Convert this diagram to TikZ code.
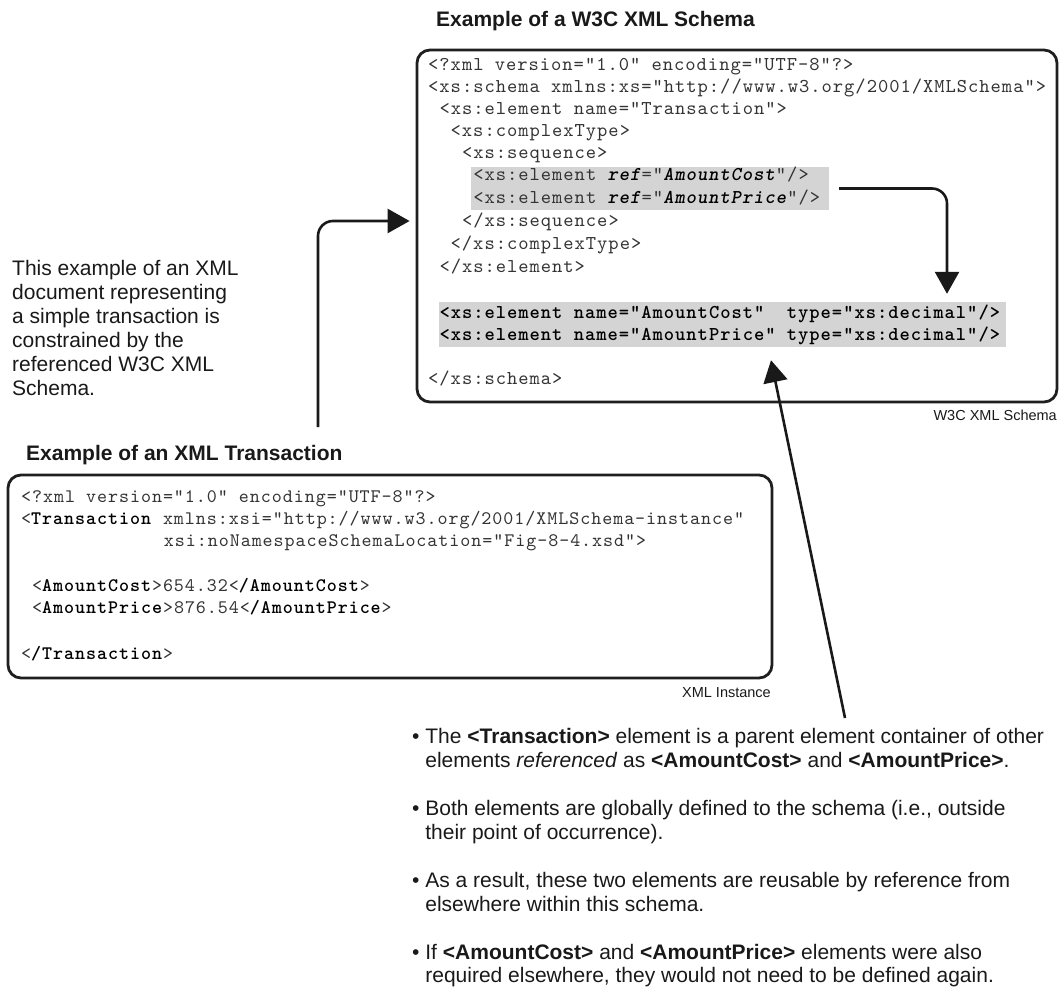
\documentclass[tikz,border=0pt]{standalone}
\usepackage{fontspec}
\setmainfont{Liberation Sans}
\newfontfamily\codefont{lmmono10-regular}[
  Extension=.otf,
  BoldFont=lmmonolt10-bold,
  ItalicFont=lmmono10-italic,
  BoldItalicFont=lmmonolt10-boldoblique,
  LetterSpace=5.0]
\usetikzlibrary{arrows.meta}

% bold and bold-italic markup inside the code listings
\newcommand\bkw[1]{\textcolor{black}{\textbf{#1}}}
\newcommand\bikw[1]{\textcolor{black}{\textbf{\textit{#1}}}}

\tikzset{
  panel/.style={draw=black!88, line width=2.8pt, rounded corners=13pt, inner sep=0pt},
  hilite/.style={fill=black!17, draw=none, inner sep=0pt},
  schemaline/.style={anchor=base west, inner sep=0pt, text=black!80,
    font=\codefont\fontsize{19.6}{22}\selectfont},
  instline/.style={anchor=base west, inner sep=0pt, text=black!80,
    font=\codefont\fontsize{19.1}{22}\selectfont},
  heading/.style={anchor=base west, inner sep=0pt, text=black!90,
    font=\bfseries\fontsize{21}{24}\selectfont},
  caption/.style={anchor=base east, inner sep=0pt, text=black!90,
    font=\fontsize{14.5}{16}\selectfont},
  % multi-line text nodes: the base anchor sits on the last line
  prose/.style={anchor=base west, inner sep=0pt, align=left, text=black!90,
    font=\fontsize{21}{24}\selectfont},
  bulletpt/.style={prose, font=\fontsize{21}{23.5}\selectfont},
  link/.style={draw=black!90, line width=2.6pt, rounded corners=15pt,
    -{Triangle[length=22pt,width=24pt]}},
}

\begin{document}
\begin{tikzpicture}[x=1pt,y=-1pt]
\useasboundingbox (0,0) rectangle (1060,987);

% ---------- schema panel ----------
\node[hilite, minimum width=358pt, minimum height=43pt] (refband) at (650,188.5) {};
\node[hilite, minimum width=567pt, minimum height=45pt] (declband) at (722.5,324.5) {};
\node[panel, minimum width=640pt, minimum height=352pt] (schema) at (737,226) {};
\node[heading] (schematitle) at (436,27) {Example of a W3C XML Schema};

\node[schemaline] (s0)  at (428,70.5)   {<?xml version="1.0" encoding="UTF-8"?>};
\node[schemaline] (s1)  at (428,92.5)   {<xs:schema xmlns:xs="http://www.w3.org/2001/XMLSchema">};
\node[schemaline] (s2)  at (439.3,114.5) {<xs:element name="Transaction">};
\node[schemaline] (s3)  at (450.5,136.5) {<xs:complexType>};
\node[schemaline] (s4)  at (461.8,158.5) {<xs:sequence>};
\node[schemaline] (s5)  at (473.1,180.5) {<xs:element \bikw{ref}="\bikw{AmountCost}"/>};
\node[schemaline] (s6)  at (473.1,203.5) {<xs:element \bikw{ref}="\bikw{AmountPrice}"/>};
\node[schemaline] (s7)  at (461.8,226.5) {</xs:sequence>};
\node[schemaline] (s8)  at (450.5,249.5) {</xs:complexType>};
\node[schemaline] (s9)  at (439.3,272.5) {</xs:element>};
\node[schemaline] (s10) at (439.3,318.5) {\bkw{<xs:element name="AmountCost"\ \ type="xs:decimal"/>}};
\node[schemaline] (s11) at (439.3,340.5) {\bkw{<xs:element name="AmountPrice" type="xs:decimal"/>}};
\node[schemaline] (s12) at (428,384.5)  {</xs:schema>};
\node[caption] (schemacap) at (1057,420) {W3C XML Schema};

% ---------- instance panel ----------
\node[heading] (insttitle) at (26,460) {Example of an XML Transaction};
\node[panel, minimum width=764pt, minimum height=203pt] (inst) at (390,576.5) {};
\node[instline] (i0) at (21,502.5)    {<?xml version="1.0" encoding="UTF-8"?>};
\node[instline] (i1) at (21,524.5)    {<\bkw{Transaction} xmlns:xsi="http://www.w3.org/2001/XMLSchema-instance"};
\node[instline] (i2) at (163.7,546.5) {xsi:noNamespaceSchemaLocation="Fig-8-4.xsd">};
\node[instline] (i3) at (32,591.5)    {<\bkw{AmountCost}>654.32<\bkw{/AmountCost}>};
\node[instline] (i4) at (32,613.5)    {<\bkw{AmountPrice}>876.54<\bkw{/AmountPrice}>};
\node[instline] (i5) at (21,659.5)    {<\bkw{/Transaction}>};
\node[caption] (instcap) at (771,697) {XML Instance};

% ---------- explanatory text ----------
\node[prose] (intro) at (12,395.5) {This example of an XML\\document representing\\a simple transaction is\\constrained by the\\referenced W3C XML\\Schema.};

\node[bulletpt] (pt1) at (412,767) {• The \textbf{<Transaction>} element is a parent element container of other\\\hphantom{• }elements \textit{referenced} as \textbf{<AmountCost>} and \textbf{<AmountPrice>}.};
\node[bulletpt] (pt2) at (412,839) {• Both elements are globally defined to the schema (i.e., outside\\\hphantom{• }their point of occurrence).};
\node[bulletpt] (pt3) at (412,911) {• As a result, these two elements are reusable by reference from\\\hphantom{• }elsewhere within this schema.};
\node[bulletpt] (pt4) at (412,982.5) {• If \textbf{<AmountCost>} and \textbf{<AmountPrice>} elements were also\\\hphantom{• }required elsewhere, they would not need to be defined again.};

% ---------- connectors ----------
\coordinate (introtail) at (318,427);
\draw[link] (introtail) |- ([xshift=-6pt,yshift=5pt]schema.west);
\draw[link] ([xshift=10pt]refband.east) -| ([xshift=224.5pt,yshift=8pt]declband.north);
\coordinate (notetail) at (845,718);
\draw[link] (notetail) -- ([xshift=48.5pt,yshift=-13pt]declband.south);
\end{tikzpicture}
\end{document}
